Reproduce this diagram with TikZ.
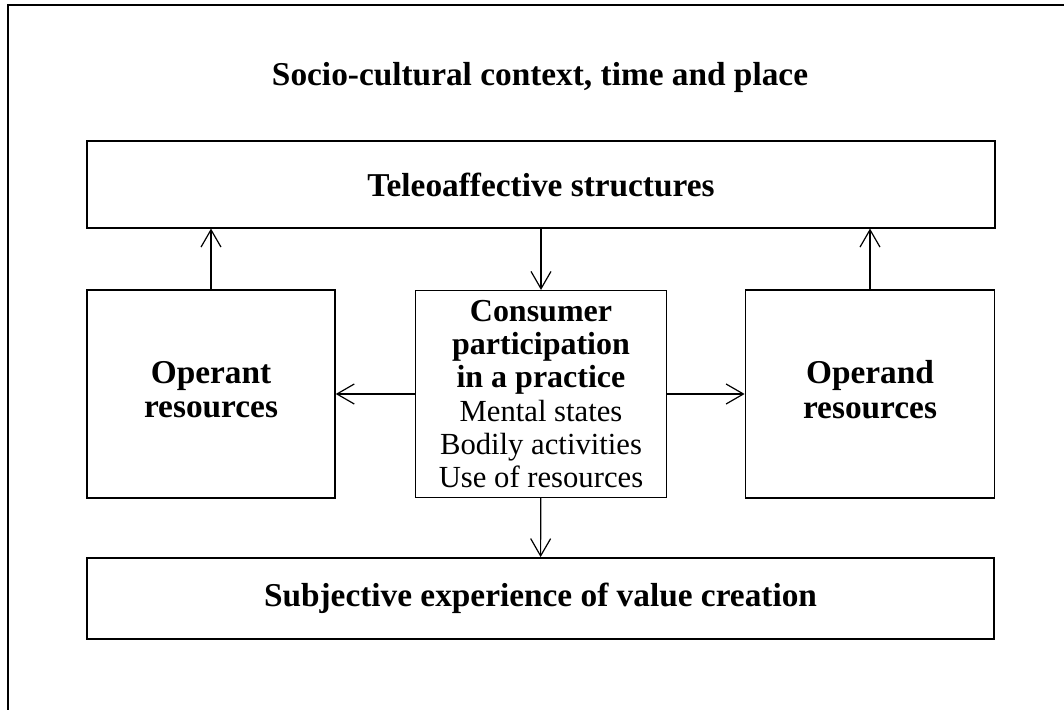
\documentclass[tikz,border=0pt]{standalone}
\usepackage{fontspec}
\setmainfont{Liberation Serif}
\usetikzlibrary{arrows.meta,positioning}

\newcommand{\leadline}[1]{{\fontsize{24}{25}\selectfont\bfseries #1}}

\tikzset{
  box/.style={draw, line width=1.1pt, align=center, inner sep=0pt},
  link/.style={line width=0.9pt, -{Straight Barb[length=13pt,width=15pt,line width=0.9pt]}},
  heading/.style={font=\fontsize{25}{26}\selectfont\bfseries}
}

\begin{document}
\begin{tikzpicture}[x=0.75pt,y=-0.75pt]
  \useasboundingbox (0,0) rectangle (1064,710);
  % outer frame (open at right and bottom)
  \draw[line width=1.5pt] (8,710) -- (8,5) -- (1064,5);
  \node[heading] (context) at (540,77) {Socio-cultural context, time and place};

  \node[box, heading, minimum width=681pt, minimum height=65pt] (teleo) at (541,184.5) {Teleoaffective structures};
  \node[box, heading, minimum width=186pt, minimum height=156pt, text depth=7pt] (operant) at (211,394) {Operant\\resources};
  \node[box, minimum width=188pt, minimum height=155pt, font=\fontsize{23}{25}\selectfont] (practice) at (541,394)
    {\leadline{Consumer}\\\leadline{participation}\\\leadline{in a practice}\\Mental states\\Bodily activities\\Use of resources};
  \node[box, heading, minimum width=187pt, minimum height=156pt, text depth=7pt] (operand) at (870,394) {Operand\\resources};
  \node[box, heading, minimum width=680pt, minimum height=61pt] (subjective) at (540.5,598.5) {Subjective experience of value creation};

  \draw[link] (operant.north) -- (operant.north |- teleo.south);
  \draw[link] (operand.north) -- (operand.north |- teleo.south);
  \draw[link] (teleo) -- (practice);
  \draw[link] (practice) -- (operant);
  \draw[link] (practice) -- (operand);
  \draw[link] (practice) -- (subjective);
\end{tikzpicture}
\end{document}
